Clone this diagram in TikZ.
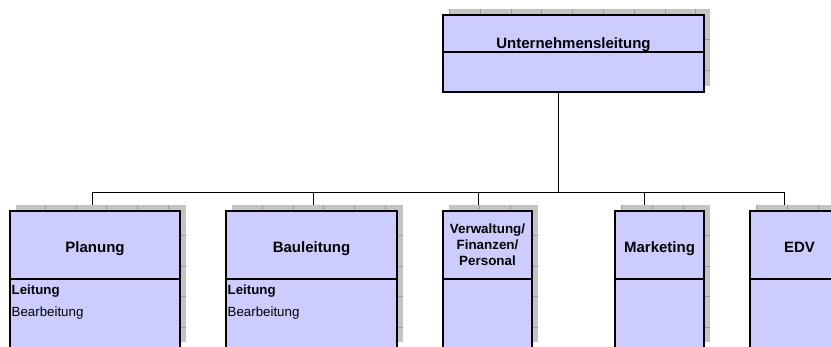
\documentclass[tikz,border=0pt]{standalone}
\usepackage{fontspec}
\setmainfont{Liberation Sans}
\usetikzlibrary{positioning}
\definecolor{boxfill}{RGB}{204,204,255}
\definecolor{shadowgray}{RGB}{196,196,196}
\definecolor{gridgray}{RGB}{158,158,158}

\begin{document}
\begin{tikzpicture}[x=1pt,y=-1pt,
  unit/.style={draw,line width=1.4pt,fill=boxfill,inner sep=0pt,outer sep=0pt,anchor=north west},
  head/.style={unit,font=\bfseries\fontsize{15}{16}\selectfont,text height=15pt,text depth=0pt},
  headml/.style={unit,font=\bfseries\fontsize{13.4}{16}\selectfont,align=center},
  item/.style={anchor=base west,inner sep=0pt,font=\fontsize{13.3}{16}\selectfont},
  conn/.style={line width=0.8pt}]
  \useasboundingbox (0,0) rectangle (831,346);

  % shadows with the sheet grid showing through
  \foreach \l/\r/\t/\b/\cx/\ry in {443/704/15/92/480/39, 10/180/211/348/45/235,
      226/397/211/348/262/235, 443/532/211/348/479/235,
      615/704/211/348/652/235, 750/849/211/348/787/235}{
    \fill[shadowgray] (\l+6,\t-6) rectangle (\r+6,\b-6);
    \begin{scope}
      \clip (\l+6,\t-6) rectangle (\r+6,\b-6);
      \foreach \k in {-3,...,9}
        \draw[gridgray,line width=0.5pt] (\cx+30.8*\k,\t-6) -- (\cx+30.8*\k,\b-6);
      \foreach \k in {-1,...,4}
        \draw[gridgray,line width=0.5pt] (\l,\ry+30.8*\k) -- (\r+6,\ry+30.8*\k);
    \end{scope}
  }

  % boxes
  \node[head,minimum width=261pt,minimum height=37pt,text height=30pt] (top) at (443,15) {Unternehmensleitung};
  \node[unit,minimum width=261pt,minimum height=40pt,below=0pt of top] (top-body) {};

  \node[head,minimum width=170pt,minimum height=68pt] (plan) at (10,211) {Planung};
  \node[unit,minimum width=170pt,minimum height=69pt,below=0pt of plan] (plan-body) {};
  \node[item] (plan-lead) at ([shift={(1.5,15)}]plan-body.north west) {\bfseries Leitung};
  \node[item] (plan-work) at ([shift={(1.5,37)}]plan-body.north west) {Bearbeitung};

  \node[head,minimum width=171pt,minimum height=68pt] (bau) at (226,211) {Bauleitung};
  \node[unit,minimum width=171pt,minimum height=69pt,below=0pt of bau] (bau-body) {};
  \node[item] (bau-lead) at ([shift={(1.5,15)}]bau-body.north west) {\bfseries Leitung};
  \node[item] (bau-work) at ([shift={(1.5,37)}]bau-body.north west) {Bearbeitung};

  \node[headml,minimum width=89pt,minimum height=68pt] (verw) at (443,211) {Verwaltung/\\Finanzen/\\Personal};
  \node[unit,minimum width=89pt,minimum height=69pt,below=0pt of verw] (verw-body) {};

  \node[head,minimum width=89pt,minimum height=68pt] (mark) at (615,211) {Marketing};
  \node[unit,minimum width=89pt,minimum height=69pt,below=0pt of mark] (mark-body) {};

  \node[head,minimum width=99pt,minimum height=68pt] (edv) at (750,211) {EDV};
  \node[unit,minimum width=99pt,minimum height=69pt,below=0pt of edv] (edv-body) {};

  % connectors
  \coordinate (trunk) at (558,192);
  \coordinate (bus-w) at (92,192);
  \coordinate (bus-e) at (784,192);
  \draw[conn] (trunk |- top-body.south) -- (trunk);
  \draw[conn] (bus-w) -- (bus-e);
  \foreach \x in {92,313,478,644,784}
    \draw[conn] (\x,192) -- (\x,205);
\end{tikzpicture}
\end{document}
